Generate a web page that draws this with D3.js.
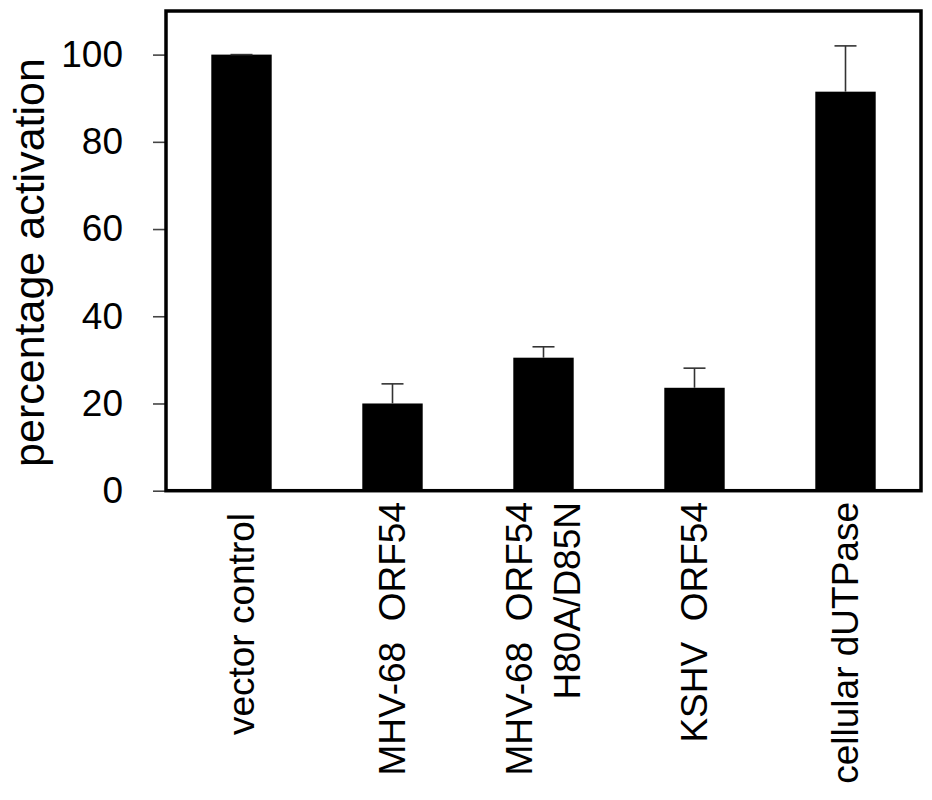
<!DOCTYPE html>
<html>
<head>
<meta charset="utf-8">
<script src="https://cdn.jsdelivr.net/npm/d3@7"></script>
<style>
  body { margin: 0; background: #fff; }
  text { font-family: "Liberation Sans", Arial, sans-serif; fill: #000; }
</style>
</head>
<body>
<div id="chart"></div>
<script>
// Data
const categories = ["vector control", "MHV-68  ORF54", "MHV-68  ORF54\nH80A/D85N", "KSHV  ORF54", "cellular dUTPase"];
const values = [100, 20, 30.5, 23.6, 91.5];
const errors = [0, 4.5, 2.5, 4.5, 10.5];
const yTicks = [0, 20, 40, 60, 80, 100];
const yMax = 110;
const yTitle = "percentage activation";

// Layout constants
const W = 932, H = 800;
const PLOT_L = 166, PLOT_R = 921, PLOT_T = 11, PLOT_B = 490.7;
const LABEL_TOP = 502;   // rotated category labels end here (top)
const LINE_GAP = 48;

const svg = d3.select('#chart')
  .append('svg')
  .attr('width', W)
  .attr('height', H);

// Scales
const x = d3.scaleBand()
  .domain(categories)
  .range([PLOT_L, PLOT_R])
  .paddingInner(0.6)
  .paddingOuter(0.3);

const y = d3.scaleLinear()
  .domain([0, yMax])
  .range([PLOT_B, PLOT_T]);

const rows = categories.map((c, i) => ({ cat: c, v: values[i], e: errors[i] }));

// Bars
svg.append('g').attr('class', 'bars')
  .selectAll('rect').data(rows).enter().append('rect')
  .attr('x', d => x(d.cat))
  .attr('y', d => y(d.v))
  .attr('width', x.bandwidth())
  .attr('height', d => y(0) - y(d.v))
  .attr('fill', '#000');

// Error bars (upper only)
const errG = svg.append('g').attr('class', 'errors')
  .attr('stroke', '#333')
  .attr('stroke-width', 1.6);

rows.forEach(d => {
  const cx = x(d.cat) + x.bandwidth() / 2;
  errG.append('line')
    .attr('x1', cx).attr('x2', cx)
    .attr('y1', y(d.v)).attr('y2', y(d.v + d.e));
  errG.append('line')
    .attr('x1', cx - 11).attr('x2', cx + 11)
    .attr('y1', y(d.v + d.e)).attr('y2', y(d.v + d.e));
});

// Y axis ticks and labels
const yAxis = svg.append('g')
  .attr('transform', `translate(${PLOT_L},0)`)
  .call(d3.axisLeft(y).tickValues(yTicks).tickSize(13).tickPadding(30));

yAxis.select('.domain').remove();
yAxis.selectAll('.tick line').attr('stroke', '#444').attr('stroke-width', 1.6);
yAxis.selectAll('.tick text')
  .attr('font-size', 37)
  .attr('font-family', '"Liberation Sans", Arial, sans-serif')
  .attr('fill', '#000');

// Frame
svg.append('rect')
  .attr('x', PLOT_L).attr('y', y(yMax))
  .attr('width', PLOT_R - PLOT_L)
  .attr('height', PLOT_B - y(yMax))
  .attr('fill', 'none')
  .attr('stroke', '#000')
  .attr('stroke-width', 3.5);

// Category labels, rotated, under each bar
const labelG = svg.append('g').attr('class', 'x-labels');
categories.forEach((c, i) => {
  const lines = c.split('\n');
  const cx = x(c) + x.bandwidth() / 2;
  lines.forEach((ln, j) => {
    const off = (j - (lines.length - 1) / 2) * LINE_GAP;
    labelG.append('text')
      .attr('transform', `translate(${cx + off},${LABEL_TOP + (i === 0 ? 11 : 0)}) rotate(-90)`)
      .attr('text-anchor', 'end')
      .attr('dy', '0.35em')
      .attr('font-size', 37)
      .style('white-space', 'pre')
      .text(ln);
  });
});

// Y title
svg.append('text')
  .attr('transform', `translate(44,${(60 + 465) / 2}) rotate(-90)`)
  .attr('text-anchor', 'middle')
  .attr('font-size', 43)
  .text(yTitle);
</script>
</body>
</html>
